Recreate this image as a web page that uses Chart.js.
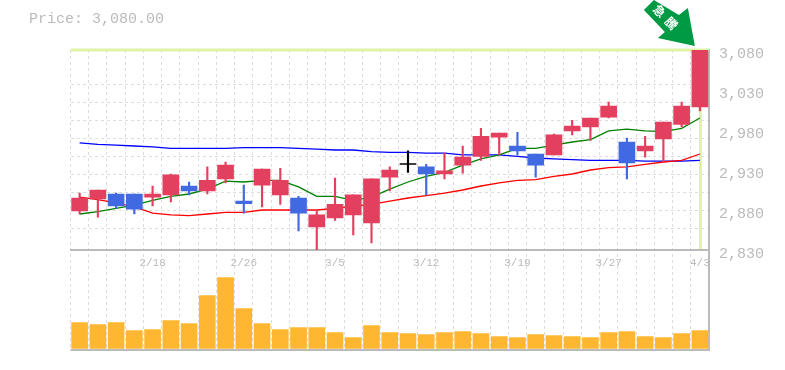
<!DOCTYPE html>
<html>
<head>
<meta charset="utf-8">
<style>html,body{margin:0;padding:0;background:#fff}canvas{display:block}</style>
<script src="https://cdn.jsdelivr.net/npm/chart.js@4"></script>
</head>
<body>
<canvas id="c" width="785" height="370"></canvas>
<script>
const dates = ['2/12','2/13','2/14','2/15','2/18','2/19','2/20','2/21','2/22','2/26','2/27','2/28','3/1','3/4','3/5','3/6','3/7','3/8','3/11','3/12','3/13','3/14','3/15','3/18','3/19','3/20','3/22','3/25','3/26','3/27','3/28','3/29','4/1','4/2','4/3'];
const shownDates = ['2/18','2/26','3/5','3/12','3/19','3/27','4/3'];
const priceTicks = ['2,830','2,880','2,930','2,980','3,030','3,080'];

const open  = [2879,2894,2900,2900,2896,2899,2910,2904,2919,2891,2911,2899,2895,2859,2870,2874,2864,2921,2937,2934,2925,2936,2947,2971,2960,2950,2949,2979,2984,2996,2965,2954,2969,2987,3009];
const close = [2895,2905,2885,2881,2900,2924,2904,2917,2936,2888,2931,2917,2876,2874,2887,2899,2919,2930,2938,2925,2929,2946,2972,2976,2954,2936,2974,2985,2995,3010,2939,2960,2990,3010,3080];
const high  = [2901,2905,2901,2900,2910,2925,2915,2934,2940,2911,2931,2932,2897,2880,2920,2899,2919,2934,2954,2937,2951,2960,2982,2976,2977,2950,2975,2992,2995,3015,2970,2972,2990,3015,3080];
const low   = [2875,2871,2882,2875,2885,2890,2899,2900,2914,2876,2884,2887,2854,2830,2867,2849,2839,2904,2927,2899,2919,2926,2942,2949,2949,2921,2949,2974,2967,2995,2919,2946,2940,2984,3004];
const volume = [26,24,26,18,19,28,25,53,71,40,25,19,21,21,16,11,23,16,15,14,16,17,15,12,11,14,13,12,11,16,17,12,11,15,18];

const maShort = [2875,2878,2882,2886,2892,2897,2900,2906,2916,2915,2917,2917,2909,2897,2897,2892,2896,2906,2915,2922,2927,2936,2944,2949,2957,2957,2961,2965,2968,2979,2981,2979,2978,2982,2995];
const maMid   = [2896,2893,2889,2884,2876,2874,2873,2875,2877,2877,2880,2880,2880,2880,2882,2885,2887,2891,2895,2898,2901,2905,2910,2914,2917,2918,2922,2925,2930,2933,2934,2937,2940,2942,2950];
const maLong  = [2964,2962,2961,2960,2959,2957,2957,2957,2957,2958,2958,2958,2957,2956,2955,2955,2953,2952,2952,2951,2951,2949,2949,2949,2947,2945,2944,2943,2942,2942,2942,2941,2941,2941,2942];

const lastPrice = 3080;
const RED = '#E34060', BLUE = '#4169E1', BLACK = '#000000';

function candleColor(i) {
  if (i === 18) return BLACK;
  return close[i] >= open[i] ? RED : BLUE;
}

const overlay = {
  id: 'overlay',
  beforeDatasetsDraw(chart) {
    const { ctx, chartArea: a, scales: { x, y, y2 } } = chart;
    ctx.save();
    // last price marker
    ctx.fillStyle = '#E0F2A4';
    const yy = y.getPixelForValue(lastPrice);
    ctx.fillRect(a.left, yy - 1.5, a.width, 3);
    const xx = x.getPixelForValue(dates.length - 1);
    ctx.fillRect(xx - 1, yy, 3, y.bottom - yy - 1);
    // panel bottom line
    ctx.fillStyle = '#BBBBBB';
    ctx.fillRect(a.left, y2.bottom - 1, a.width + 1, 2);
    ctx.restore();
  },
  afterDraw(chart) {
    const { ctx, scales: { x, y } } = chart;
    ctx.save();
    ctx.fillStyle = '#BBBBBB';
    ctx.font = '15px "Liberation Mono"';
    ctx.textBaseline = 'alphabetic';
    ctx.fillText('Price: 3,080.00', 29, 23);
    // arrow
    const px = x.getPixelForValue(dates.length - 1), py = y.getPixelForValue(lastPrice);
    const arrow = [[-46,-50],[-21,-35],[-12,-42],[-5,-4],[-42,-12],[-35,-18],[-56,-40]];
    ctx.fillStyle = '#009944';
    ctx.beginPath();
    arrow.forEach(([dx, dy], i) => i ? ctx.lineTo(px + dx, py + dy) : ctx.moveTo(px + dx, py + dy));
    ctx.closePath();
    ctx.fill();
    ctx.translate(px - 34, py - 32.5);
    ctx.rotate(Math.PI / 4);
    ctx.fillStyle = '#FFFFFF';
    ctx.font = 'bold 12px "Noto Sans CJK JP"';
    ctx.letterSpacing = '5px';
    ctx.textAlign = 'center';
    ctx.textBaseline = 'middle';
    ctx.fillText('急騰', 2, 0);
    ctx.restore();
  }
};

new Chart(document.getElementById('c'), {
  plugins: [overlay],
  data: {
    labels: dates,
    datasets: [
      { type: 'bar', yAxisID: 'y', order: 1, grouped: false, barThickness: 16,
        data: open.map((o, i) => [o, close[i]]), backgroundColor: open.map((o, i) => candleColor(i)) },
      { type: 'bar', yAxisID: 'y', order: 2, grouped: false, barThickness: 1.5,
        data: low.map((l, i) => [l, high[i]]), backgroundColor: low.map((l, i) => candleColor(i)) },
      { type: 'line', yAxisID: 'y', order: 3, data: maShort, borderColor: '#008000', borderWidth: 1.3, pointRadius: 0, tension: 0 },
      { type: 'line', yAxisID: 'y', order: 4, data: maMid, borderColor: '#FF0000', borderWidth: 1.3, pointRadius: 0, tension: 0 },
      { type: 'line', yAxisID: 'y', order: 5, data: maLong, borderColor: '#0000FF', borderWidth: 1.3, pointRadius: 0, tension: 0 },
      { type: 'bar', yAxisID: 'y2', order: 6, grouped: false, barThickness: 16, data: volume, backgroundColor: '#FFB732' }
    ]
  },
  options: {
    responsive: false,
    animation: false,
    layout: { padding: { left: 70.5, top: 50, bottom: 20, right: 0 } },
    plugins: { legend: { display: false }, tooltip: { enabled: false } },
    scales: {
      x: {
        type: 'category',
        position: { y: 2830 },
        offset: true,
        grid: { offset: true, color: '#DDDDDD', drawTicks: false },
        border: { dash: [3, 3], color: '#BBBBBB', width: 2 },
        ticks: {
          autoSkip: false, maxRotation: 0, padding: 6,
          color: '#BBBBBB', font: { family: 'Liberation Mono', size: 11 },
          callback(v) { const d = this.getLabelForValue(v); return shownDates.includes(d) ? d : ''; }
        }
      },
      y2: {
        position: 'left', stack: 'main', stackWeight: 1, min: -1.5, max: 98.5,
        afterFit(s) { s.width = 0; },
        ticks: { display: false }, grid: { display: false }, border: { display: false }
      },
      y: {
        position: 'left', stack: 'main', stackWeight: 2, min: 2830, max: 3080,
        afterFit(s) { s.width = 0; },
        ticks: { display: false, stepSize: 22.5 },
        grid: { color: '#DDDDDD', drawTicks: false },
        border: { display: false, dash: [3, 3] }
      },
      yr: {
        position: 'right', min: 2705, max: 3080,
        afterFit(s) { s.width = 76; },
        afterBuildTicks(s) { s.ticks = priceTicks.map(t => ({ value: Number(t.replace(',', '')) })); },
        ticks: {
          padding: 10, labelOffset: 4, color: '#BBBBBB',
          font: { family: 'Liberation Mono', size: 15 },
          callback(v) { return priceTicks.find(t => Number(t.replace(',', '')) === v); }
        },
        grid: { display: false, drawTicks: false },
        border: { color: '#BBBBBB', width: 2 }
      }
    }
  }
});
</script>
</body>
</html>
